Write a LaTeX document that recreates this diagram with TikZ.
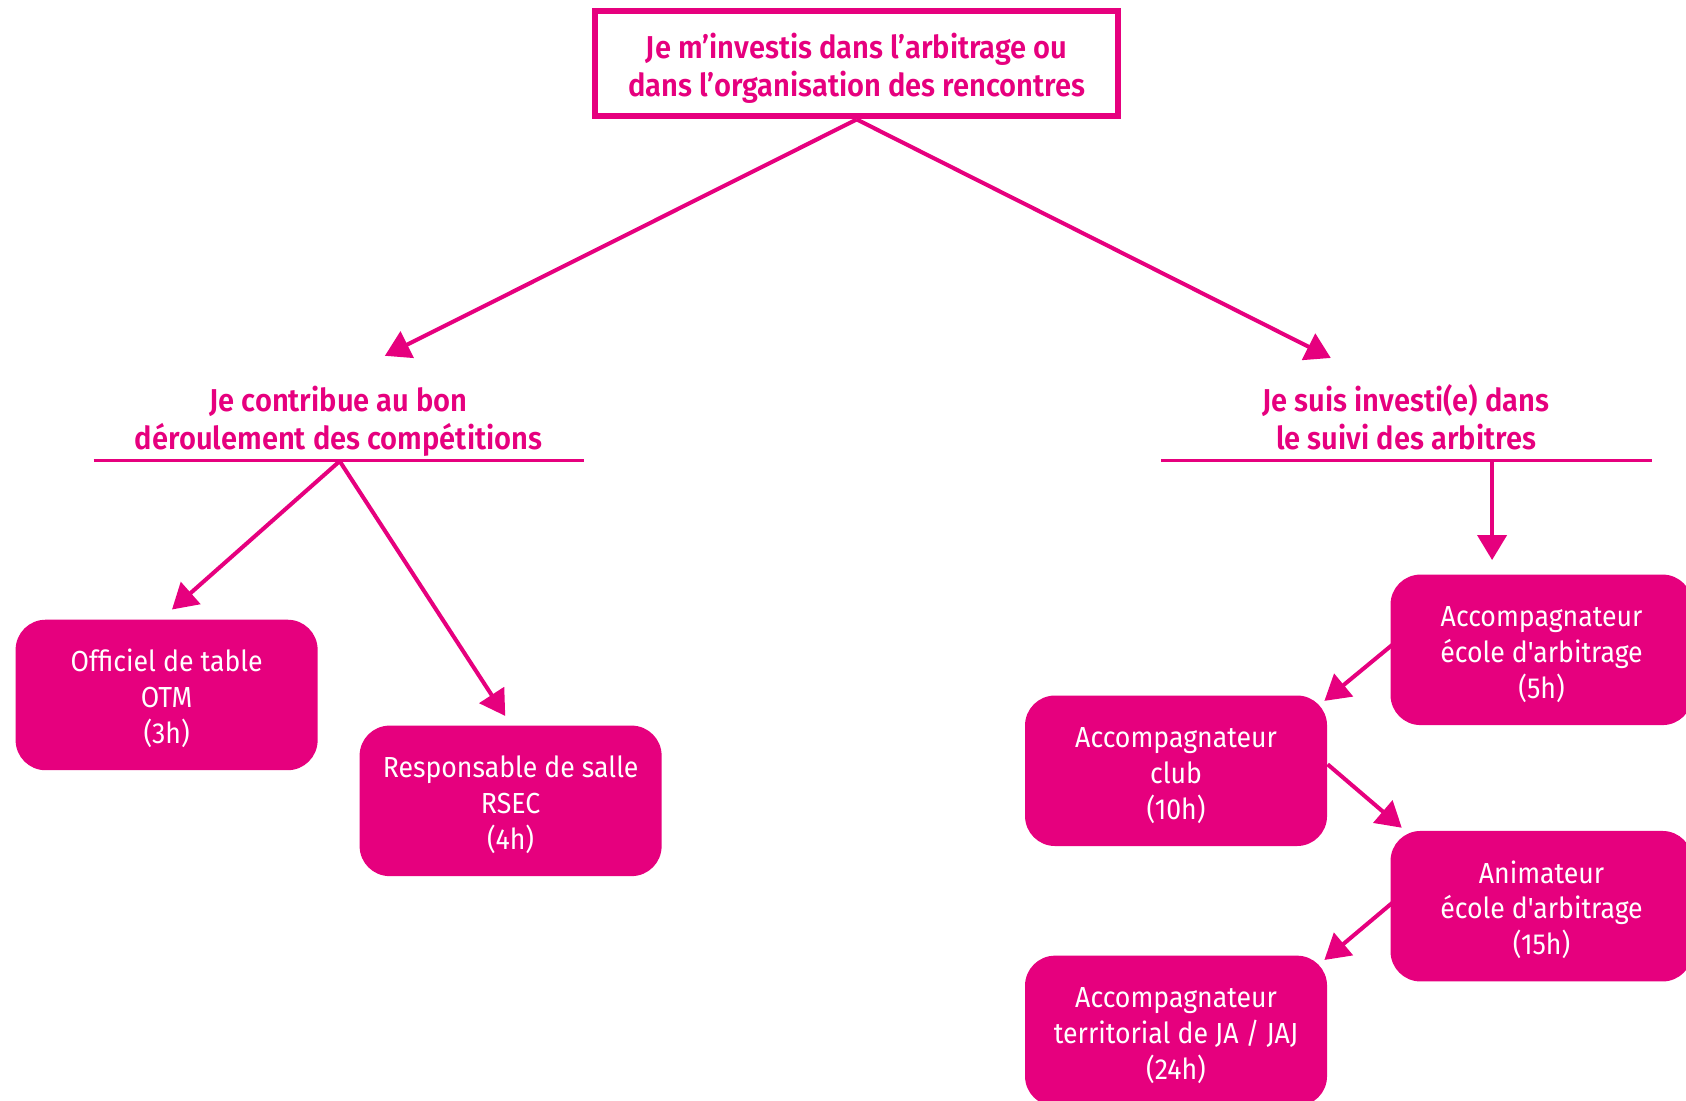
\documentclass[tikz,border=0pt]{standalone}
\usepackage{fontspec}
\setmainfont{Fira Sans}[FakeStretch=0.92,Ligatures=TeXOff,BoldFont={Fira Sans SemiBold}]
\usetikzlibrary{arrows.meta}
\definecolor{mag}{RGB}{230,0,126}
\newcommand\topst{\rule{0pt}{18.3pt}}
\newcommand\toptop{\rule{0pt}{19pt}}
\newcommand\botst{\rule[-4pt]{0pt}{4pt}}
\begin{document}
\begin{tikzpicture}[x=0.0215cm,y=-0.0215cm,
  conn/.style={draw=mag,line width=2.3pt,-{Triangle[length=0.5cm,width=0.58cm]}},
  headtxt/.style={text=mag,font=\fontsize{18}{22}\selectfont\bfseries,align=center,inner sep=0pt},
  pbox/.style={fill=mag,rounded corners=0.6cm,text=white,align=center,
    font=\fontsize{16.5}{20.3}\selectfont,minimum width=6.04cm,minimum height=3.01cm,inner sep=0pt},
  uline/.style={draw=mag,line width=1.7pt}]
\useasboundingbox (0,0) rectangle (1568.4,1024.2);
\clip (0,0) rectangle (1568.4,1024.2);
% top box
\node[draw=mag,line width=3.4pt,minimum width=10.46cm,minimum height=2.1cm,
  text=mag,font=\fontsize{18}{21.5}\selectfont\bfseries,align=center,inner sep=0pt]
  (top) at (797,59.5) {\toptop Je m’investis dans l’arbitrage ou\\dans l’organisation des rencontres\botst};
% headings
\node[headtxt] (h1) at (315,392) {Je contribue au bon\\déroulement des compétitions};
\node[headtxt] (h2) at (1308,388) {Je suis investi(e) dans\\le suivi des arbitres};
\coordinate (h1l) at (87,428);
\coordinate (h1r) at (543,428);
\coordinate (h1m) at (316,429);
\coordinate (h2l) at (1080,428);
\coordinate (h2r) at (1537,428);
\coordinate (h2m) at (1388,429);
\draw[uline] (h1l) -- (h1r);
\draw[uline] (h2l) -- (h2r);
% boxes
\node[pbox] (otm) at (155,646.5) {\topst Officiel de table\\OTM\\(3h)\botst};
\node[pbox] (rsec) at (475,745) {\topst Responsable de salle\\RSEC\\(4h)\botst};
\node[pbox] (acc) at (1434,604.5) {\topst Accompagnateur\\école d'arbitrage\\(5h)\botst};
\node[pbox] (club) at (1094,717) {\topst Accompagnateur\\club\\(10h)\botst};
\node[pbox] (anim) at (1434,843) {\topst Animateur\\école d'arbitrage\\(15h)\botst};
\node[pbox] (terr) at (1094,959) {\topst Accompagnateur\\territorial de JA / JAJ\\(24h)\botst};
% arrow tips
\coordinate (t1) at (358,331);
\coordinate (t2) at (1238,333);
\coordinate (t3) at (160,567);
\coordinate (t4) at (470,666);
\coordinate (t5) at (1388,521);
\coordinate (t6) at (1232,652);
\coordinate (t7) at (1304,770);
\coordinate (t8) at (1232,893);
\coordinate (s6) at (1295,600);
\coordinate (s7) at (1235,711);
\coordinate (s8) at (1295,840);
% connectors
\draw[conn] (top.south) -- (t1);
\draw[conn] (top.south) -- (t2);
\draw[conn] (h1m) -- (t3);
\draw[conn] (h1m) -- (t4);
\draw[conn] (h2m) -- (t5);
\draw[conn] (s6) -- (t6);
\draw[conn] (s7) -- (t7);
\draw[conn] (s8) -- (t8);
\end{tikzpicture}
\end{document}
